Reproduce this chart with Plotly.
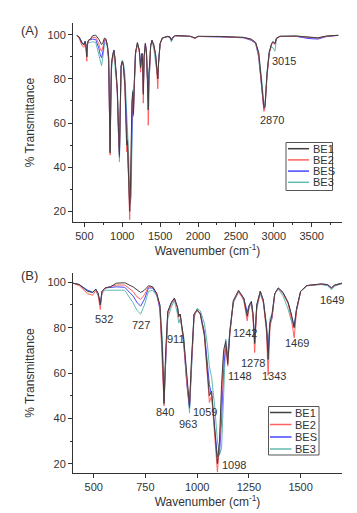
import plotly.graph_objects as go

# ---------------- data ----------------
wavenumber = [400, 430, 470, 495, 510, 522, 532, 540, 555, 580, 610, 650, 690, 710, 727, 745, 765, 785,
              805, 820, 832, 840, 848, 858, 875, 890, 905, 911, 918, 935, 950, 963, 972, 985, 1000,
              1015, 1035, 1050, 1059, 1070, 1085, 1098, 1108, 1118, 1128, 1138, 1148, 1158, 1175,
              1200, 1225, 1242, 1252, 1262, 1270, 1278, 1288, 1305, 1320, 1335, 1343, 1352, 1362,
              1375, 1392, 1415, 1440, 1455, 1469, 1480, 1500, 1530, 1600, 1630, 1649, 1665, 1700,
              1800, 1900, 1960, 2000, 2300, 2600, 2700, 2760, 2800, 2840, 2870, 2885, 2910, 2940,
              2970, 2990, 3015, 3035, 3080, 3300, 3450, 3580, 3700, 3850]

BE1 = [99.6, 99.0, 96.0, 95.5, 97.0, 95.0, 90.0, 96.0, 97.5, 98.0, 99.6, 99.8, 98.0, 96.5, 95.5, 96.5, 98.5, 98.0,
       95.0, 90.0, 70.0, 46.5, 70.0, 87.0, 91.0, 93.0, 89.0, 85.0, 86.0, 75.0, 58.0, 45.5, 65.0, 86.0, 88.0,
       86.0, 77.0, 62.0, 50.0, 52.0, 35.0, 20.0, 30.0, 55.0, 70.0, 74.0, 64.0, 78.0, 92.0,
       96.5, 93.0, 85.0, 90.0, 91.5, 86.0, 73.0, 90.0, 96.0, 92.0, 80.0, 66.0, 82.0, 86.0,
       95.0, 97.5, 95.5, 91.0, 86.0, 80.0, 88.0, 96.0, 98.6, 99.3, 99.0, 97.6, 98.8, 99.6,
       99.5, 99.3, 98.5, 99.3, 99.2, 98.8, 98.0, 96.5, 92.0, 78.0, 67.0, 68.0, 82.0, 92.0,
       96.0, 97.0, 96.0, 98.5, 99.3, 99.4, 98.8, 98.6, 99.4, 99.7]

BE2 = [99.6, 98.5, 95.0, 94.3, 96.5, 94.0, 88.0, 95.5, 97.5, 98.0, 98.8, 98.8, 96.0, 93.5, 92.5, 94.5, 98.0, 98.0,
       95.0, 89.0, 65.0, 45.5, 66.0, 86.0, 90.5, 92.5, 88.5, 84.5, 85.5, 74.0, 56.0, 46.0, 63.0, 85.5, 87.5,
       86.0, 76.0, 60.0, 47.0, 50.0, 32.0, 16.3, 28.0, 52.0, 68.0, 72.0, 63.0, 77.0, 91.5,
       96.0, 92.0, 83.0, 89.5, 91.0, 84.0, 69.0, 89.0, 96.0, 91.0, 78.0, 59.0, 80.0, 85.0,
       95.0, 97.3, 95.0, 90.5, 84.0, 75.5, 87.0, 96.0, 98.5, 99.2, 99.0, 97.6, 98.8, 99.5,
       99.4, 99.2, 98.3, 99.2, 99.1, 98.7, 97.8, 96.3, 91.0, 77.0, 65.3, 67.0, 81.0, 91.5,
       95.5, 96.5, 95.5, 98.3, 99.2, 99.3, 98.8, 98.5, 99.3, 99.7]

BES = [99.6, 99.0, 96.5, 95.5, 97.0, 95.0, 90.0, 96.0, 97.5, 97.8, 98.0, 97.8, 94.0, 91.0, 89.5, 92.5, 97.5, 97.5,
       94.5, 88.0, 68.0, 47.5, 68.0, 87.0, 91.0, 93.0, 89.0, 85.0, 86.0, 73.0, 55.0, 44.5, 62.0, 86.0, 87.5,
       86.5, 78.0, 64.0, 55.0, 50.0, 35.0, 23.0, 24.0, 40.0, 62.0, 72.0, 66.0, 78.0, 91.5,
       96.0, 93.0, 87.0, 90.0, 91.5, 86.0, 74.0, 90.0, 96.0, 92.0, 80.0, 70.0, 82.0, 84.0,
       95.0, 97.5, 95.5, 91.0, 85.0, 80.5, 88.0, 96.0, 98.5, 99.2, 98.8, 97.4, 98.7, 99.6,
       99.4, 99.2, 98.4, 99.2, 99.0, 98.6, 97.5, 96.0, 90.0, 76.0, 66.0, 67.5, 81.5, 92.0,
       95.5, 96.5, 96.0, 98.3, 99.2, 99.2, 98.3, 98.0, 99.2, 99.7]

BE3 = [99.6, 99.0, 96.5, 95.8, 96.5, 94.0, 91.0, 95.0, 96.5, 96.5, 96.8, 96.5, 91.0, 87.5, 86.0, 90.0, 96.0, 96.5,
       94.0, 90.0, 75.0, 52.0, 65.0, 84.0, 89.0, 92.0, 86.0, 82.0, 84.0, 76.0, 58.0, 42.4, 60.0, 84.0, 88.5,
       87.5, 82.0, 72.0, 63.0, 58.0, 45.0, 30.0, 24.0, 27.0, 50.0, 75.0, 68.0, 79.0, 91.0,
       95.5, 93.0, 86.0, 89.0, 90.5, 85.0, 75.0, 88.0, 95.0, 91.0, 82.0, 72.0, 84.0, 86.0,
       95.0, 97.0, 94.0, 88.0, 83.0, 80.0, 88.0, 96.0, 98.5, 99.0, 98.5, 96.7, 98.3, 99.4,
       99.4, 99.2, 98.5, 99.2, 99.1, 98.8, 98.0, 96.5, 92.0, 80.0, 68.0, 69.0, 83.0, 92.5,
       94.5, 94.0, 92.5, 98.0, 99.3, 99.4, 98.8, 98.5, 99.4, 99.8]

series_names = ["BE1", "BE2", "BES", "BE3"]
series_values = [BE1, BE2, BES, BE3]
series_colors = ["#404040", "#ff6060", "#4646ff", "#62bab2"]

peak_labels_A = ["2870", "3015"]
peak_label_x_A = [2976, 3135]
peak_label_y_A = [61.5, 88.0]

peak_labels_B = ["532", "727", "911", "840", "963", "1059", "1098", "1148", "1242", "1278", "1343", "1469", "1649"]
peak_label_x_B = [550, 727, 900, 843, 955, 1037, 1177, 1207, 1232, 1270, 1370, 1484, 1654]
peak_label_y_B = [84.0, 81.3, 75.0, 43.0, 37.3, 43.0, 19.4, 58.6, 77.7, 64.4, 58.6, 73.3, 92.1]

# ---------------- figure ----------------
W, H = 357, 513
FONT = "Liberation Sans, Arial, sans-serif"
TXT = "#333333"

fig = go.Figure()

draw_order = [3, 2, 1, 0]  # BE3 first, BE1 on top
for axis_suffix in ["", "2"]:
    for i in draw_order:
        fig.add_trace(go.Scatter(
            x=wavenumber, y=series_values[i], mode="lines", name=series_names[i],
            line=dict(color=series_colors[i], width=1),
            xaxis="x" + axis_suffix, yaxis="y" + axis_suffix, showlegend=False,
        ))

def px_to_paper_y(py):
    return 1 - py / H

left, right = 65, 334
axis_common = dict(
    showline=True, linecolor="#333333", linewidth=1, mirror=False,
    ticks="outside", ticklen=4, tickcolor="#333333", tickwidth=1,
    showgrid=False, zeroline=False,
    tickfont=dict(family=FONT, size=11, color=TXT),
)

fig.update_layout(
    width=W, height=H, margin=dict(l=left, r=W - right, t=0, b=0),
    paper_bgcolor="white", plot_bgcolor="white", showlegend=False,
    font=dict(family=FONT, color=TXT, size=11),
    xaxis=dict(domain=[0, 1], range=[350, 3900], anchor="y",
               tickvals=[500, 1000, 1500, 2000, 2500, 3000, 3500],
               minor=dict(dtick=250, tick0=0, ticks="outside", ticklen=2, tickcolor="#333333"),
               title=dict(text="Wavenumber (cm<sup>-1</sup>)", font=dict(family=FONT, size=12, color=TXT), standoff=4),
               **axis_common),
    yaxis=dict(domain=[px_to_paper_y(214), px_to_paper_y(15)], range=[15.2, 105.3], anchor="x",
               tickvals=[20, 40, 60, 80, 100],
               minor=dict(dtick=10, tick0=0, ticks="outside", ticklen=2, tickcolor="#333333"),
               title=dict(text="% Transmittance", font=dict(family=FONT, size=12, color=TXT), standoff=10),
               **axis_common),
    xaxis2=dict(domain=[0, 1], range=[400, 1700], anchor="y2",
                tickvals=[500, 750, 1000, 1250, 1500],
                title=dict(text="Wavenumber (cm<sup>-1</sup>)", font=dict(family=FONT, size=12, color=TXT), standoff=4),
                **axis_common),
    yaxis2=dict(domain=[px_to_paper_y(465), px_to_paper_y(265)], range=[15.9, 104.1], anchor="x2",
                tickvals=[20, 40, 60, 80, 100],
                minor=dict(dtick=10, tick0=0, ticks="outside", ticklen=2, tickcolor="#333333"),
                title=dict(text="% Transmittance", font=dict(family=FONT, size=12, color=TXT), standoff=10),
                **axis_common),
)

annotations = []
# panel labels
for lab, py in [("(A)", 22.5), ("(B)", 267.5)]:
    annotations.append(dict(text=lab, xref="paper", yref="paper",
                            x=(21 - left) / (right - left), y=px_to_paper_y(py),
                            xanchor="center", yanchor="middle", showarrow=False,
                            font=dict(family=FONT, size=13, color=TXT)))
# peak labels
for t, xv, yv in zip(peak_labels_A, peak_label_x_A, peak_label_y_A):
    annotations.append(dict(text=t, x=xv, y=yv, xref="x", yref="y", showarrow=False,
                            xanchor="center", yanchor="middle", font=dict(family=FONT, size=11, color=TXT)))
for t, xv, yv in zip(peak_labels_B, peak_label_x_B, peak_label_y_B):
    annotations.append(dict(text=t, x=xv, y=yv, xref="x2", yref="y2", showarrow=False,
                            xanchor="center", yanchor="middle", font=dict(family=FONT, size=11, color=TXT)))

# compact legends (box, line samples, labels)
shapes = []
def add_legend(box_x0, box_x1, box_y0, box_y1, line_x0, line_x1, text_x, rows_y):
    def fx(px):
        return (px - left) / (right - left)
    shapes.append(dict(type="rect", xref="paper", yref="paper",
                       x0=fx(box_x0), x1=fx(box_x1), y0=px_to_paper_y(box_y1), y1=px_to_paper_y(box_y0),
                       line=dict(color="#555555", width=1), fillcolor="white", layer="above"))
    for name, col, ry in zip(series_names, series_colors, rows_y):
        shapes.append(dict(type="line", xref="paper", yref="paper",
                           x0=fx(line_x0), x1=fx(line_x1), y0=px_to_paper_y(ry), y1=px_to_paper_y(ry),
                           line=dict(color=col, width=1.5), layer="above"))
        annotations.append(dict(text=name, xref="paper", yref="paper", x=fx(text_x), y=px_to_paper_y(ry),
                                xanchor="left", yanchor="middle", showarrow=False,
                                font=dict(family=FONT, size=11, color=TXT)))

add_legend(278, 324.5, 134.5, 182.5, 280, 301, 302.5, [140.7, 151.9, 163.1, 174.3])
add_legend(260.5, 311, 398.5, 447, 262, 283.5, 284.5, [404.5, 416.5, 429.0, 441.0])

fig.update_layout(annotations=annotations, shapes=shapes)

fig.write_html("out.html")
